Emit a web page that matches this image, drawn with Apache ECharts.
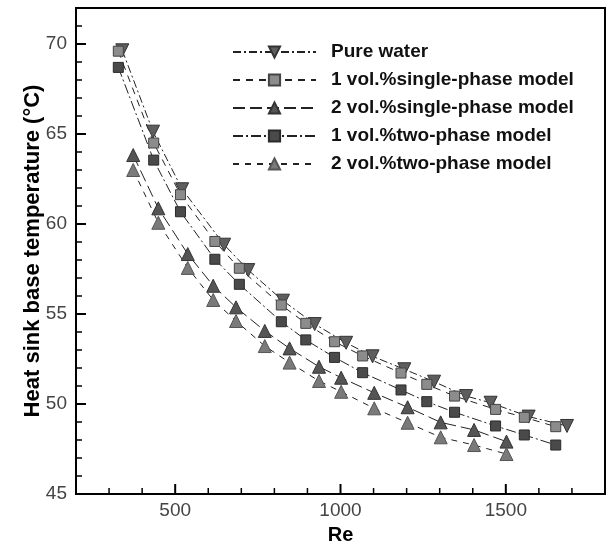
<!DOCTYPE html>
<html>
<head>
<meta charset="utf-8">
<script src="https://cdn.jsdelivr.net/npm/echarts@6/dist/echarts.min.js"></script>
<style>
  html, body { margin: 0; padding: 0; background: #fff; }
  #chart { width: 608px; height: 546px; }
</style>
</head>
<body>
<div id="chart"></div>
<script>
// Re values and base temperatures (°C)
const reWater = [340, 433, 521, 648, 721, 826, 922, 1017, 1097, 1193, 1283, 1380, 1454, 1569, 1685];
const tWater = [69.65, 65.13, 61.93, 58.85, 57.44, 55.74, 54.44, 53.40, 52.65, 51.93, 51.24, 50.44, 50.07, 49.30, 48.78];

const reOne = [328, 435, 516, 620, 694, 821, 895, 982, 1067, 1183, 1261, 1345, 1469, 1556, 1651];
const tOneSingle = [69.60, 64.50, 61.63, 59.03, 57.54, 55.50, 54.48, 53.46, 52.67, 51.72, 51.09, 50.44, 49.70, 49.26, 48.74];
const tOneTwo = [68.70, 63.55, 60.68, 58.04, 56.65, 54.57, 53.56, 52.59, 51.74, 50.78, 50.13, 49.54, 48.78, 48.28, 47.72];

const reTwo = [373, 449, 538, 615, 684, 771, 846, 935, 1002, 1102, 1203, 1303, 1404, 1502];
const tTwoSingle = [63.83, 60.87, 58.33, 56.57, 55.37, 54.06, 53.09, 52.07, 51.46, 50.62, 49.82, 48.98, 48.56, 47.91];
const tTwoTwo = [63.00, 60.07, 57.56, 55.78, 54.61, 53.22, 52.30, 51.28, 50.68, 49.76, 48.96, 48.15, 47.72, 47.22];

// axis ticks
const xMin = 200, xMax = 1800, yMin = 45, yMax = 72;
const xTicks = [500, 1000, 1500];
const xMinorTicks = [300, 400, 600, 700, 800, 900, 1100, 1200, 1300, 1400, 1600, 1700];
const yTicks = [45, 50, 55, 60, 65, 70];
const yMinorTicks = [46, 47, 48, 49, 51, 52, 53, 54, 56, 57, 58, 59, 61, 62, 63, 64, 66, 67, 68, 69, 71];

const FONT = '"Liberation Sans", Arial, sans-serif';
const pairs = (xs, ys) => xs.map((x, i) => [x, ys[i]]);

const mkSeries = (name, data, symbol, rotate, size, fill, border, dash) => ({
    name,
    type: 'line',
    data,
    symbol,
    symbolRotate: rotate,
    symbolSize: size,
    showAllSymbol: true,
    itemStyle: { color: fill, borderColor: border, borderWidth: 1, opacity: 1 },
    lineStyle: { color: '#222', width: 1, type: dash },
    emphasis: { disabled: true },
    animation: false
});

// inward tick marks drawn as thin rect symbols sitting on the axes
const tickSeries = (values, dir, len, width) => ({
    type: 'scatter',
    data: values.map(v => (dir === 'x' ? [v, yMin] : [xMin, v])),
    symbol: 'rect',
    symbolSize: dir === 'x' ? [width, len] : [len, width],
    symbolOffset: dir === 'x' ? [0, -len / 2] : [len / 2, 0],
    itemStyle: { color: '#000', opacity: 1 },
    silent: true,
    clip: false,
    zlevel: 1,
    z: 10,
    emphasis: { disabled: true },
    animation: false
});

const chart = echarts.init(document.getElementById('chart'));

chart.setOption({
    backgroundColor: '#fff',
    animation: false,
    grid: {
        left: 76, top: 8, right: 3, bottom: 52,
        outerBoundsMode: 'none', containLabel: false,
        show: true, borderColor: '#000', borderWidth: 2, backgroundColor: 'transparent'
    },
    legend: {
        orient: 'vertical',
        left: 232,
        top: 42,
        padding: 0,
        itemWidth: 83,
        itemHeight: 14,
        itemGap: 8,
        selectedMode: false,
        textStyle: { fontFamily: FONT, fontSize: 19, fontWeight: 'bold', color: '#111', lineHeight: 20, padding: [0, 0, 0, 10] },
        data: ['Pure water', '1 vol.%single-phase model', '2 vol.%single-phase model',
               '1 vol.%two-phase model', '2 vol.%two-phase model']
    },
    xAxis: {
        type: 'value', min: xMin, max: xMax, interval: 100,
        name: 'Re', nameLocation: 'middle', nameGap: 31,
        nameTextStyle: { fontFamily: FONT, fontSize: 20, fontWeight: 'bold', color: '#000' },
        axisLine: { show: true, lineStyle: { color: '#000', width: 2 } },
        axisTick: { show: false },
        axisLabel: { show: true, customValues: xTicks, margin: 7, fontFamily: FONT, fontSize: 19, color: '#444', formatter: v => String(v) },
        splitLine: { show: false }
    },
    yAxis: {
        type: 'value', min: yMin, max: yMax, interval: 1,
        name: 'Heat sink base temperature (°C)', nameLocation: 'middle', nameGap: 32,
        nameMoveOverlap: false,
        nameTextStyle: { fontFamily: FONT, fontSize: 22, fontWeight: 'bold', color: '#000' },
        axisLine: { show: true, lineStyle: { color: '#000', width: 2 } },
        axisTick: { show: false },
        axisLabel: { show: true, customValues: yTicks, margin: 9, fontFamily: FONT, fontSize: 19, color: '#444', formatter: v => String(v) },
        splitLine: { show: false }
    },
    series: [
        tickSeries(xTicks, 'x', 10, 2),
        tickSeries(xMinorTicks, 'x', 6, 1.5),
        tickSeries(yTicks, 'y', 10, 2),
        tickSeries(yMinorTicks, 'y', 6, 1.5),
        mkSeries('Pure water', pairs(reWater, tWater), 'triangle', 180, 13, '#5e5e5e', '#333', [8, 3, 2, 3]),
        mkSeries('1 vol.%single-phase model', pairs(reOne, tOneSingle), 'rect', 0, 10, '#8c8c8c', '#444', [7, 6]),
        mkSeries('2 vol.%single-phase model', pairs(reTwo, tTwoSingle), 'triangle', 0, 13, '#555', '#333', [12, 5]),
        mkSeries('1 vol.%two-phase model', pairs(reOne, tOneTwo), 'rect', 0, 10, '#4a4a4a', '#2a2a2a', [10, 3, 2, 3]),
        mkSeries('2 vol.%two-phase model', pairs(reTwo, tTwoTwo), 'triangle', 0, 13, '#7a7a7a', '#555', [6, 6])
    ]
});
</script>
</body>
</html>
